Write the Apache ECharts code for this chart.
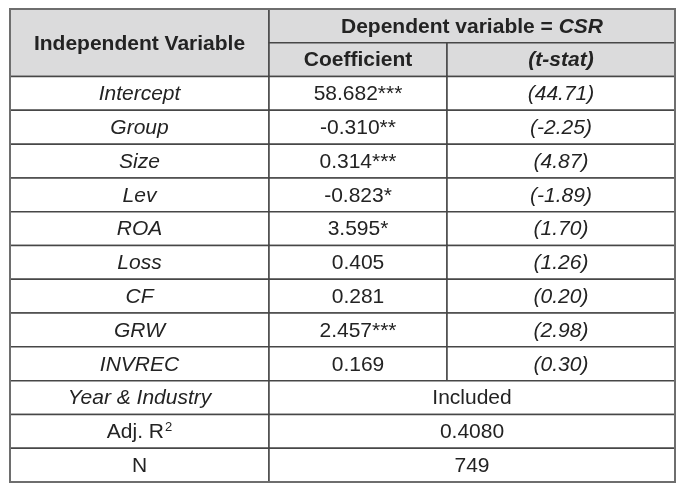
<!DOCTYPE html>
<html>
<head>
<meta charset="utf-8">
<script src="https://cdn.jsdelivr.net/npm/echarts@6/dist/echarts.min.js"></script>
<style>html,body{margin:0;padding:0;background:#fff;}#c{width:695px;height:486px;}</style>
</head>
<body>
<div id="c"></div>
<script>
// ---- data ----
const headerVar = 'Independent Variable';
const headerDep = 'Dependent variable = ';
const headerDepVar = 'CSR';
const headerCols = ['Coefficient', '(t-stat)'];
const variables = ['Intercept', 'Group', 'Size', 'Lev', 'ROA', 'Loss', 'CF', 'GRW', 'INVREC'];
const coefficients = ['58.682***', '-0.310**', '0.314***', '-0.823*', '3.595*', '0.405', '0.281', '2.457***', '0.169'];
const tStats = ['(44.71)', '(-2.25)', '(4.87)', '(-1.89)', '(1.70)', '(1.26)', '(0.20)', '(2.98)', '(0.30)'];
const summaryLabels = ['Year & Industry', 'Adj. R{sup|2}', 'N'];
const summaryItalic = [true, false, false];
const summaryValues = ['Included', '0.4080', '749'];

// ---- layout (not data) ----
const COL = [0, 259, 437, 665];
const FONT = 'Liberation Sans, Arial, sans-serif';
const FS = 21;
const HEADER_BG = '#dbdbdc';
const TEXT_COLOR = '#232323';

const cells = [];
cells.push({c: [0, 1], r: [0, 2], text: headerVar, bold: true, bg: HEADER_BG});
cells.push({c: [1, 3], r: [0, 1], text: '{b|' + headerDep + '}{bi|' + headerDepVar + '}', bg: HEADER_BG, rich: true});
cells.push({c: [1, 2], r: [1, 2], text: headerCols[0], bold: true, bg: HEADER_BG});
cells.push({c: [2, 3], r: [1, 2], text: headerCols[1], bold: true, italic: true, bg: HEADER_BG});
variables.forEach((v, i) => {
  const r = 2 + i;
  cells.push({c: [0, 1], r: [r, r + 1], text: v, italic: true});
  cells.push({c: [1, 2], r: [r, r + 1], text: coefficients[i]});
  cells.push({c: [2, 3], r: [r, r + 1], text: tStats[i], italic: true});
});
summaryLabels.forEach((s, i) => {
  const r = 2 + variables.length + i;
  cells.push({c: [0, 1], r: [r, r + 1], text: s, italic: summaryItalic[i], rich: true});
  cells.push({c: [1, 3], r: [r, r + 1], text: summaryValues[i]});
});
const nRows = 2 + variables.length + summaryLabels.length;
cells.push({c: [0, 3], r: [0, nRows], frame: true});

const seriesData = cells.map(cl => [COL[cl.c[0]], COL[cl.c[1]], cl.r[0], cl.r[1]]);

function fontOf(bold, italic, size) {
  return (italic ? 'italic ' : '') + (bold ? 'bold ' : '') + (size || FS) + 'px ' + FONT;
}

function renderItem(params, api) {
  const cl = cells[params.dataIndex];
  const p0 = api.coord([api.value(0), api.value(2)]);
  const p1 = api.coord([api.value(1), api.value(3)]);
  const x = p0[0], y = p0[1], w = p1[0] - p0[0], h = p1[1] - p0[1];
  if (cl.frame) {
    return {type: 'rect', shape: {x: x, y: y, width: w, height: h},
      style: {fill: 'none', stroke: '#6e6e6e', lineWidth: 2}, z2: 10};
  }
  const children = [{
    type: 'rect', shape: {x: x, y: y, width: w, height: h},
    style: {fill: cl.bg || '#ffffff', stroke: '#474747', lineWidth: 1.5}
  }];
  const ts = {
    text: cl.text, x: x + w / 2, y: y + h / 2 + 1, align: 'center', verticalAlign: 'middle',
    fill: TEXT_COLOR, font: fontOf(cl.bold, cl.italic)
  };
  if (cl.rich) {
    ts.rich = {
      b: {font: fontOf(true, false), fill: TEXT_COLOR},
      bi: {font: fontOf(true, true), fill: TEXT_COLOR},
      sup: {font: '13px ' + FONT, fill: TEXT_COLOR, verticalAlign: 'top', padding: [0, 0, 10, 1]}
    };
  }
  children.push({type: 'text', style: ts, z2: 5});
  return {type: 'group', children: children};
}

const chart = echarts.init(document.getElementById('c'), null, {renderer: 'canvas'});
chart.setOption({
  animation: false,
  grid: {left: 10, right: 20, top: 9, bottom: 4},
  xAxis: {type: 'value', min: 0, max: COL[3], show: false},
  yAxis: {type: 'value', min: 0, max: nRows, inverse: true, show: false},
  series: [{
    type: 'custom',
    renderItem: renderItem,
    data: seriesData,
    encode: {x: [0, 1], y: [2, 3]},
    clip: false
  }]
});
</script>
</body>
</html>
